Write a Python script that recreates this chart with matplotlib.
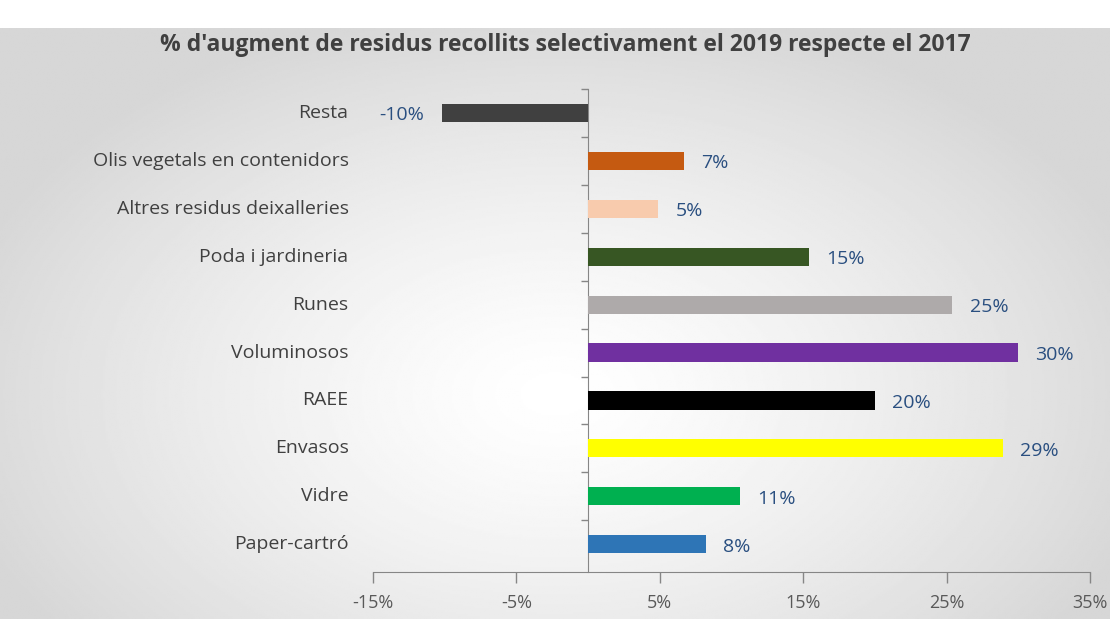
import matplotlib.pyplot as plt
import matplotlib.transforms as mtransforms
import numpy as np

# categories listed bottom to top
categories = ['Paper-cartró', 'Vidre', 'Envasos', 'RAEE', 'Voluminosos', 'Runes',
              'Poda i jardineria', 'Altres residus deixalleries',
              'Olis vegetals en contenidors', 'Resta']
values = [8.2, 10.6, 28.9, 20.0, 30.0, 25.4, 15.4, 4.9, 6.7, -10.2]
labels = ['8%', '11%', '29%', '20%', '30%', '25%', '15%', '5%', '7%', '-10%']
colors = ['#2E75B6', '#00B050', '#FFFF00', '#000000', '#7030A0', '#AEAAAA',
          '#375623', '#F8CBAD', '#C55A11', '#404040']
xticks = [-15, -5, 5, 15, 25, 35]

plt.rcParams['font.family'] = ['Open Sans', 'DejaVu Sans']

fig = plt.figure(figsize=(11.18, 6.19), dpi=100)

# radial grey background
bg = fig.add_axes([0, 0, 1110 / 1118, 1 - 28 / 619], zorder=-10)
yy, xx = np.mgrid[0:1:300j, 0:1:600j]
r = np.sqrt(((xx - 0.5) / 0.75) ** 2 + ((yy - 0.62) / 0.9) ** 2)
shade = 1 - 0.16 * np.clip(r / 0.75, 0, 1) ** 1.3
bg.imshow(shade, cmap='gray', vmin=0, vmax=1, aspect='auto', extent=[0, 1, 0, 1])
bg.axis('off')

ax = fig.add_axes([373 / 1118, 1 - 572 / 619, (1090 - 373) / 1118, (572 - 89) / 619])
ax.patch.set_alpha(0)
y = np.arange(len(categories))
ax.barh(y, values, height=0.38, color=colors, zorder=3)

ax.set_xlim(-15, 35)
ax.set_ylim(-0.58, len(categories) - 0.5)
ax.set_xticks(xticks)
ax.set_xticklabels([f'{t}%' for t in xticks], fontsize=13, color='#595959')
ax.tick_params(axis='x', length=8, width=1, color='#868686', pad=8)

for s in ['top', 'right']:
    ax.spines[s].set_visible(False)
ax.spines['bottom'].set_color('#868686')
ax.spines['left'].set_position(('data', 0))
ax.spines['left'].set_color('#868686')
ax.set_yticks(np.arange(len(categories)) + 0.5)
ax.set_yticklabels([])
ax.tick_params(axis='y', length=5, width=1, color='#868686', direction='out')

trans = mtransforms.blended_transform_factory(ax.transAxes, ax.transData)
for yi, cat in zip(y, categories):
    ax.text(-0.034, yi, cat, transform=trans, ha='right', va='center',
            fontsize=14, color='#404040')

for yi, v, lab in zip(y, values, labels):
    if v >= 0:
        ax.text(v + 1.2, yi - 0.05, lab, ha='left', va='center', fontsize=14, color='#2A4F80')
    else:
        ax.text(v - 1.2, yi - 0.05, lab, ha='right', va='center', fontsize=14, color='#2A4F80')

fig.text(565 / 1118, 1 - 45 / 619,
         "% d'augment de residus recollits selectivament el 2019 respecte el 2017",
         ha='center', va='center', fontsize=16.5, fontweight='bold', color='#404040')

fig.savefig('out.png', dpi=100)
